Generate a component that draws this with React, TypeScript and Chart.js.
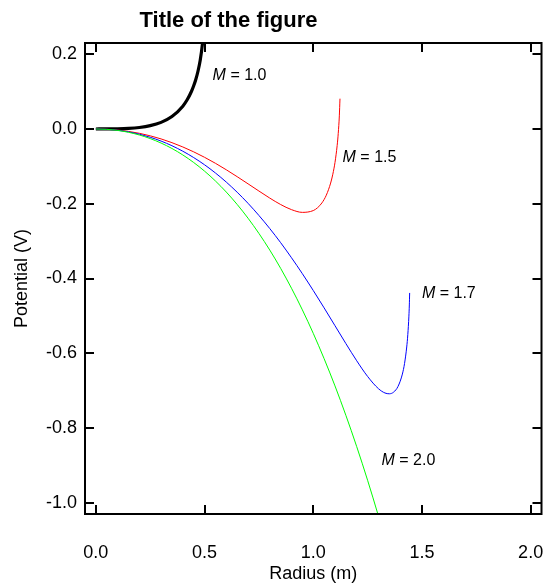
import React, { useEffect, useRef } from "react";
import { Chart, registerables } from "chart.js";

Chart.register(...registerables);

const FONT = "'Liberation Sans', Arial, Helvetica, sans-serif";

const titleText = "Title of the figure";
const xAxisTitle = "Radius (m)";
const yAxisTitle = "Potential (V)";

const xTickValues = [0, 0.5, 1.0, 1.5, 2.0];
const yTickValues = [0.2, 0.0, -0.2, -0.4, -0.6, -0.8, -1.0];

// M = 1.0 (black, thick)
const radiusM10 = [0, 0.05, 0.1, 0.15, 0.2, 0.25, 0.3, 0.35, 0.4, 0.42, 0.44, 0.45, 0.46, 0.47, 0.48, 0.49, 0.495, 0.5];
const potentialM10 = [0, 0.00005, 0.0004, 0.0015, 0.004, 0.0089, 0.0177, 0.0332, 0.061, 0.078, 0.1009, 0.1155, 0.1331, 0.1551, 0.1839, 0.2263, 0.2595, 0.3513];

// M = 1.5 (red)
const radiusM15 = [0, 0.05, 0.1, 0.15, 0.2, 0.25, 0.3, 0.35, 0.4, 0.45, 0.5, 0.55, 0.6, 0.65, 0.7, 0.75, 0.8, 0.85, 0.9, 0.95, 1.0, 1.02, 1.04, 1.06, 1.08, 1.09, 1.1, 1.11, 1.115, 1.12, 1.123];
const potentialM15 = [0, -0.0007, -0.0028, -0.0065, -0.0116, -0.0183, -0.0266, -0.0366, -0.0481, -0.0612, -0.0758, -0.0918, -0.1092, -0.1276, -0.1467, -0.166, -0.1849, -0.2021, -0.2158, -0.2231, -0.2183, -0.2106, -0.1977, -0.1772, -0.1447, -0.1211, -0.0896, -0.0442, -0.0117, 0.0351, 0.0811];

// M = 1.7 (blue)
const radiusM17 = [0, 0.05, 0.1, 0.15, 0.2, 0.25, 0.3, 0.35, 0.4, 0.45, 0.5, 0.55, 0.6, 0.65, 0.7, 0.75, 0.8, 0.85, 0.9, 0.95, 1.0, 1.05, 1.1, 1.15, 1.2, 1.25, 1.3, 1.33, 1.35, 1.37, 1.39, 1.41, 1.42, 1.43, 1.435, 1.44, 1.442, 1.4435];
const potentialM17 = [0, -0.0008, -0.0034, -0.0077, -0.014, -0.0222, -0.0324, -0.0448, -0.0595, -0.0765, -0.0958, -0.1177, -0.1421, -0.1692, -0.1989, -0.2313, -0.2664, -0.3041, -0.3445, -0.3872, -0.4321, -0.4786, -0.5263, -0.574, -0.6201, -0.662, -0.6948, -0.7063, -0.7084, -0.7038, -0.6887, -0.6557, -0.6273, -0.5832, -0.5501, -0.5007, -0.4708, -0.4386];

// M = 2.0 (green)
const radiusM20 = [0, 0.05, 0.1, 0.15, 0.2, 0.25, 0.3, 0.35, 0.4, 0.45, 0.5, 0.55, 0.6, 0.65, 0.7, 0.75, 0.8, 0.85, 0.9, 0.95, 1.0, 1.05, 1.1, 1.15, 1.2, 1.25, 1.3, 1.35];
const potentialM20 = [0, -0.001, -0.0039, -0.0089, -0.0161, -0.0257, -0.0377, -0.0522, -0.0695, -0.0897, -0.1128, -0.1391, -0.1688, -0.2019, -0.2387, -0.2793, -0.3239, -0.3728, -0.4261, -0.484, -0.5467, -0.6145, -0.6874, -0.7659, -0.8499, -0.9398, -1.0357, -1.1378];

const curveLabels = ["1.0", "1.5", "1.7", "2.0"];
const curveLabelX = [0.537, 1.135, 1.5, 1.314];
const curveLabelY = [0.143, -0.076, -0.44, -0.888];

const toPoints = (xs: number[], ys: number[]) => xs.map((x, i) => ({ x, y: ys[i] }));

const framePlugin = {
  id: "frameTicks",
  afterDraw(chart: any) {
    const { ctx, chartArea } = chart;
    const { left, right, top, bottom } = chartArea;
    const xs = chart.scales.x;
    const ys = chart.scales.y;
    const tl = 9;
    ctx.save();
    ctx.strokeStyle = "#000";
    ctx.lineWidth = 2;
    ctx.strokeRect(left, top, right - left, bottom - top);
    ctx.beginPath();
    xTickValues.forEach((v) => {
      const px = Math.round(xs.getPixelForValue(v));
      ctx.moveTo(px, bottom);
      ctx.lineTo(px, bottom - tl);
      ctx.moveTo(px, top);
      ctx.lineTo(px, top + tl);
    });
    yTickValues.forEach((v) => {
      const py = Math.round(ys.getPixelForValue(v));
      ctx.moveTo(left, py);
      ctx.lineTo(left + tl, py);
      ctx.moveTo(right, py);
      ctx.lineTo(right - tl, py);
    });
    ctx.stroke();

    // curve annotations
    ctx.fillStyle = "#000";
    ctx.textBaseline = "middle";
    ctx.textAlign = "left";
    curveLabels.forEach((lab, i) => {
      const px = xs.getPixelForValue(curveLabelX[i]);
      const py = ys.getPixelForValue(curveLabelY[i]);
      ctx.font = `italic 16px ${FONT}`;
      ctx.fillText("M", px, py);
      const w = ctx.measureText("M").width;
      ctx.font = `16px ${FONT}`;
      ctx.fillText(" = " + lab, px + w, py);
    });

    // title
    ctx.font = `bold 22px ${FONT}`;
    ctx.textAlign = "center";
    ctx.fillText(titleText, 228.5, 21);
    ctx.restore();
  },
};

export default function App() {
  const ref = useRef<HTMLCanvasElement | null>(null);
  useEffect(() => {
    if (!ref.current) return;
    const chart = new Chart(ref.current, {
      type: "line",
      data: {
        datasets: [
          { label: "M = 1.0", data: toPoints(radiusM10, potentialM10), borderColor: "#000000", borderWidth: 3.2, pointRadius: 0, cubicInterpolationMode: "monotone", order: 3 },
          { label: "M = 1.5", data: toPoints(radiusM15, potentialM15), borderColor: "#ff0000", borderWidth: 1, pointRadius: 0, cubicInterpolationMode: "monotone", order: 2 },
          { label: "M = 1.7", data: toPoints(radiusM17, potentialM17), borderColor: "#0000ff", borderWidth: 1, pointRadius: 0, cubicInterpolationMode: "monotone", order: 1 },
          { label: "M = 2.0", data: toPoints(radiusM20, potentialM20), borderColor: "#00ff00", borderWidth: 1, pointRadius: 0, cubicInterpolationMode: "monotone", order: 0 },
        ],
      } as any,
      options: {
        animation: false,
        responsive: false,
        events: [],
        layout: { padding: { top: 43, right: 2.5, left: 0, bottom: 0 } },
        plugins: { legend: { display: false }, tooltip: { enabled: false }, title: { display: false } },
        scales: {
          x: {
            type: "linear",
            min: -0.05,
            max: 2.05,
            grid: { display: false, drawTicks: false },
            border: { display: false },
            afterBuildTicks: (s: any) => { s.ticks = xTickValues.map((v) => ({ value: v })); },
            afterFit: (s: any) => { s.height = 71; s.paddingLeft = 0; s.paddingRight = 0; },
            ticks: {
              padding: 28,
              color: "#000",
              font: { family: FONT, size: 18 },
              callback: (v: any) => Number(v).toFixed(1),
            },
            title: { display: true, text: xAxisTitle, color: "#000", font: { family: FONT, size: 18 }, padding: { top: 0, bottom: 0 } },
          },
          y: {
            type: "linear",
            min: -1.03,
            max: 0.23,
            grid: { display: false, drawTicks: false },
            border: { display: false },
            afterBuildTicks: (s: any) => { s.ticks = yTickValues.map((v) => ({ value: v })); },
            afterFit: (s: any) => { s.width = 85; s.paddingTop = 0; s.paddingBottom = 0; },
            ticks: {
              padding: 8,
              color: "#000",
              font: { family: FONT, size: 18 },
              callback: (v: any) => Number(v).toFixed(1),
            },
            title: { display: true, text: yAxisTitle, color: "#000", font: { family: FONT, size: 18 }, padding: { top: 11, bottom: 0 } },
          },
        },
      } as any,
      plugins: [framePlugin],
    });
    return () => chart.destroy();
  }, []);
  return (
    <div style={{ position: "absolute", left: 0, top: 0, width: 544, height: 585, background: "#fff" }}>
      <canvas ref={ref} width={544} height={585} style={{ display: "block" }} />
    </div>
  );
}
